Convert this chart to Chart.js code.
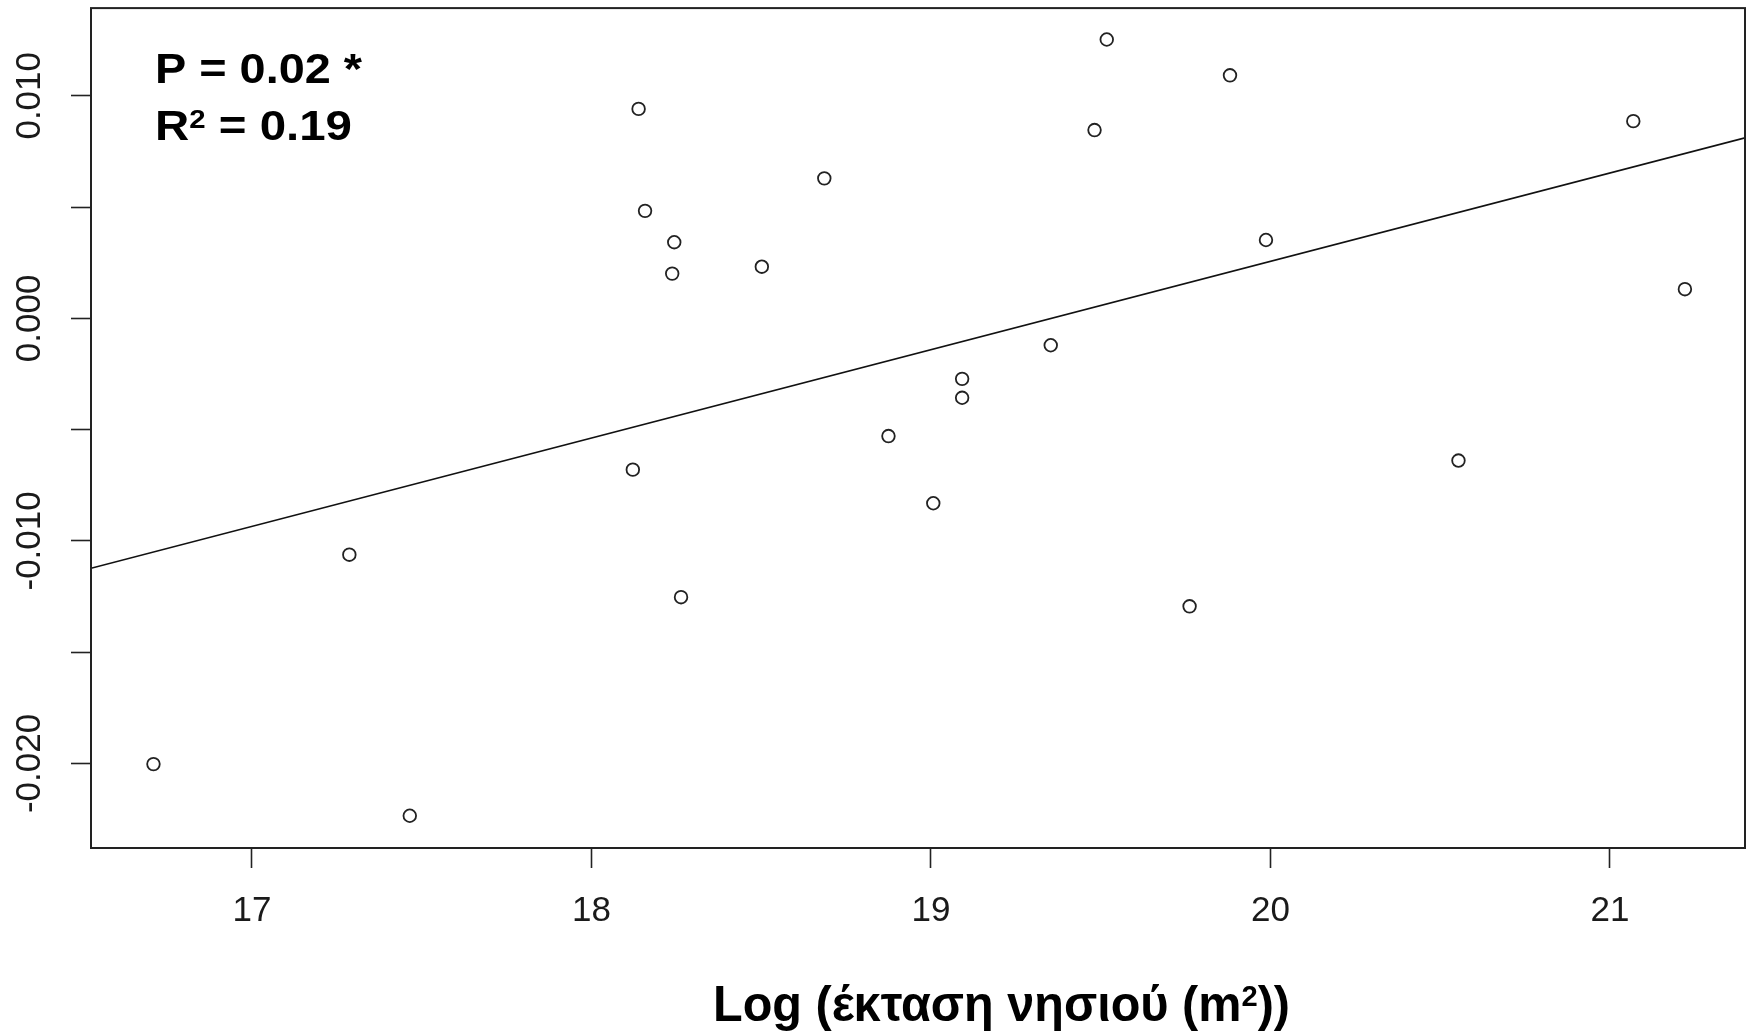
<!DOCTYPE html>
<html>
<head>
<meta charset="utf-8">
<script src="https://cdn.jsdelivr.net/npm/chart.js@4"></script>
<style>
  html, body { margin: 0; padding: 0; background: #ffffff; }
  canvas { display: block; }
</style>
</head>
<body>
<canvas id="c" width="1757" height="1032"></canvas>
<script>
// ---- data ----
const xValues = [16.710, 17.287, 17.465, 18.139, 18.158, 18.244, 18.238, 18.122,
                 18.264, 18.502, 18.686, 18.875, 19.007, 19.092, 19.092, 19.353,
                 19.482, 19.518, 19.762, 19.881, 19.987, 20.554, 21.069, 21.221];
const yValues = [-0.02003, -0.01062, -0.02235, 0.00941, 0.00483, 0.00342, 0.00201, -0.00680,
                 -0.01253, 0.00232, 0.00629, -0.00529, -0.00831, -0.00272, -0.00357, -0.00121,
                 0.00846, 0.01253, -0.01294, 0.01092, 0.00352, -0.00639, 0.00886, 0.00131];
// regression line, endpoints at the plot edges
const fitX = [16.526, 21.398];
const fitY = [-0.01123, 0.00811];
// axes
const xRange = [16.526, 21.398];
const yRange = [-0.02380, 0.01394];
const xTicks = [17, 18, 19, 20, 21];
const yTicks = [-0.020, -0.015, -0.010, -0.005, 0.000, 0.005, 0.010];
const yLabeled = [-0.020, -0.010, 0.000, 0.010];
// texts
const annotP = 'P = 0.02 *';
const annotR = ['R', '2', ' = 0.19'];
const xTitle = ['Log (έκταση νησιού (m', '2', '))'];

const FONT = "'Liberation Sans', Arial, Helvetica, sans-serif";
const INK = '#1a1a1a';

function drawSegments(ctx, segs, left, baseline, targetWidth) {
  let total = 0;
  const widths = segs.map(s => {
    ctx.font = 'bold ' + s.size + 'px ' + FONT;
    const w = ctx.measureText(s.text).width;
    total += w;
    return w;
  });
  const sx = targetWidth ? targetWidth / total : 1;
  ctx.save();
  ctx.translate(left, baseline);
  ctx.scale(sx, 1);
  ctx.fillStyle = '#000';
  ctx.textBaseline = 'alphabetic';
  ctx.textAlign = 'left';
  let x = 0;
  segs.forEach((s, i) => {
    ctx.font = 'bold ' + s.size + 'px ' + FONT;
    ctx.fillText(s.text, x, s.dy || 0);
    x += widths[i];
  });
  ctx.restore();
}

const decorPlugin = {
  id: 'decor',
  afterDatasetsDraw(chart) {
    const ctx = chart.ctx;
    const a = chart.chartArea;
    ctx.save();
    ctx.strokeStyle = '#222';
    ctx.lineWidth = 2;
    ctx.strokeRect(a.left, a.top, a.right - a.left, a.bottom - a.top);
    ctx.restore();
  },
  afterDraw(chart) {
    const ctx = chart.ctx;
    drawSegments(ctx, [{text: annotP, size: 42}], 155, 83, 207);
    drawSegments(ctx, [
      {text: annotR[0], size: 42},
      {text: annotR[1], size: 26, dy: -12},
      {text: annotR[2], size: 42}
    ], 155, 140, 197);
    drawSegments(ctx, [
      {text: xTitle[0], size: 50},
      {text: xTitle[1], size: 30, dy: -15},
      {text: xTitle[2], size: 50}
    ], 713, 1021, 577);
  }
};

function noPad(scale) {
  scale.paddingTop = 0;
  scale.paddingBottom = 0;
  scale.paddingLeft = 0;
  scale.paddingRight = 0;
}

const ctx = document.getElementById('c').getContext('2d');
new Chart(ctx, {
  type: 'scatter',
  data: {
    datasets: [
      {
        type: 'scatter',
        data: xValues.map((x, i) => ({x: x, y: yValues[i]})),
        pointRadius: 6.3,
        pointBorderWidth: 1.8,
        borderColor: '#222',
        backgroundColor: 'rgba(0,0,0,0)',
        pointBackgroundColor: 'rgba(0,0,0,0)',
        pointBorderColor: '#222'
      },
      {
        type: 'line',
        data: fitX.map((x, i) => ({x: x, y: fitY[i]})),
        borderColor: '#111',
        borderWidth: 1.7,
        pointRadius: 0,
        fill: false,
        tension: 0
      }
    ]
  },
  options: {
    responsive: false,
    animation: false,
    devicePixelRatio: 1,
    layout: { padding: { top: 8, right: 12, left: 0, bottom: 0 } },
    plugins: { legend: { display: false }, tooltip: { enabled: false } },
    scales: {
      x: {
        type: 'linear',
        position: 'bottom',
        min: xRange[0],
        max: xRange[1],
        afterBuildTicks(scale) { scale.ticks = xTicks.map(v => ({value: v})); },
        afterFit(scale) { scale.height = 184; noPad(scale); },
        grid: { display: true, drawOnChartArea: false, drawTicks: true, tickLength: 20, tickColor: '#222', tickWidth: 1.6 },
        border: { display: false },
        ticks: {
          autoSkip: false,
          maxRotation: 0,
          minRotation: 0,
          padding: 22,
          color: INK,
          font: { family: FONT, size: 35 },
          callback: (v) => String(v)
        }
      },
      y: {
        type: 'linear',
        position: 'left',
        min: yRange[0],
        max: yRange[1],
        afterBuildTicks(scale) { scale.ticks = yTicks.map(v => ({value: v})); },
        afterFit(scale) { scale.width = 91; noPad(scale); },
        grid: { display: true, drawOnChartArea: false, drawTicks: true, tickLength: 20, tickColor: '#222', tickWidth: 1.6 },
        border: { display: false },
        ticks: {
          autoSkip: false,
          minRotation: 90,
          maxRotation: 90,
          crossAlign: 'center',
          padding: -9,
          color: INK,
          font: { family: FONT, size: 35 },
          callback: (v) => {
            const hit = yLabeled.some(t => Math.abs(t - v) < 1e-9);
            if (!hit) return '';
            const s = v.toFixed(3);
            return s === '-0.000' ? '0.000' : s;
          }
        }
      }
    }
  },
  plugins: [decorPlugin]
});
</script>
</body>
</html>
